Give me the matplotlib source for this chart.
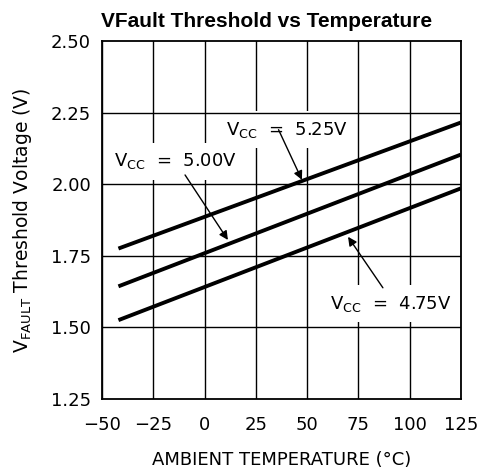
import matplotlib
matplotlib.use("Agg")
import matplotlib.pyplot as plt
import numpy as np

# temperature span of the curves (deg C)
temps = [-42, 125]
# threshold voltage at each end of the span (V)
v_525 = [1.775, 2.215]
v_500 = [1.643, 2.103]
v_475 = [1.525, 1.985]

xticks = [-50, -25, 0, 25, 50, 75, 100, 125]
yticks = [1.25, 1.50, 1.75, 2.00, 2.25, 2.50]

plt.rcParams['font.family'] = ['DejaVu Sans']

fig = plt.figure(figsize=(4.79, 4.76), dpi=100)
ax = fig.add_axes([0.213, 0.162, 0.749, 0.752])

ax.set_xlim(-50, 125)
ax.set_ylim(1.25, 2.50)
ax.set_xticks(xticks)
ax.set_yticks(yticks)
ax.set_xticklabels(["\u221250", "\u221225", "0", "25", "50", "75", "100", "125"])
ax.set_yticklabels(["%.2f" % v for v in yticks])
ax.tick_params(length=0, labelsize=13)
ax.tick_params(axis="y", pad=8)
ax.tick_params(axis="x", pad=12)
# vertical grid sits under the label boxes, horizontal grid stays on top
ax.grid(True, axis="x", color="black", lw=1.0)
ax.set_axisbelow(True)
for y in yticks[1:-1]:
    ax.axhline(y, color="black", lw=1.0, zorder=4.5)
for s in ax.spines.values():
    s.set_linewidth(1.3)

for v in (v_525, v_500, v_475):
    ax.plot(temps, v, color="black", lw=2.8, solid_capstyle="butt", zorder=3)

box = dict(facecolor="white", edgecolor="none", pad=6)
txt = dict(fontsize=13, ha="center", va="center", bbox=box, zorder=4)
ax.text(40.2, 2.19, r"V$_{\mathrm{CC}}$  =  5.25V", **txt)
ax.text(-14.4, 2.08, r"V$_{\mathrm{CC}}$  =  5.00V", **txt)
ax.text(91, 1.583, r"V$_{\mathrm{CC}}$  =  4.75V", **txt)

ann = dict(arrowstyle="-|>", color="black", lw=1.0, mutation_scale=13,
           shrinkA=0, shrinkB=0)
ax.annotate("", xy=(47.5, 2.015), xytext=(36.1, 2.19), arrowprops=ann, zorder=5)
ax.annotate("", xy=(11.4, 1.805), xytext=(-9.5, 2.032), arrowprops=ann, zorder=5)
ax.annotate("", xy=(70, 1.816), xytext=(87, 1.638), arrowprops=ann, zorder=5)

fig.text(0.556, 0.955, "VFault Threshold vs Temperature", fontsize=15,
         fontweight="bold", family="Liberation Sans", ha="center", va="center")
ax.set_xlabel("AMBIENT TEMPERATURE (\u00b0C)", fontsize=13)
ax.xaxis.set_label_coords(0.5, -0.145)
ax.xaxis.label.set_va("top")
ax.set_ylabel(r"V$_{\mathrm{FAULT}}$ Threshold Voltage (V)", fontsize=13.5)
ax.yaxis.set_label_coords(-0.19, 0.5)

fig.savefig("out.png", dpi=100)
